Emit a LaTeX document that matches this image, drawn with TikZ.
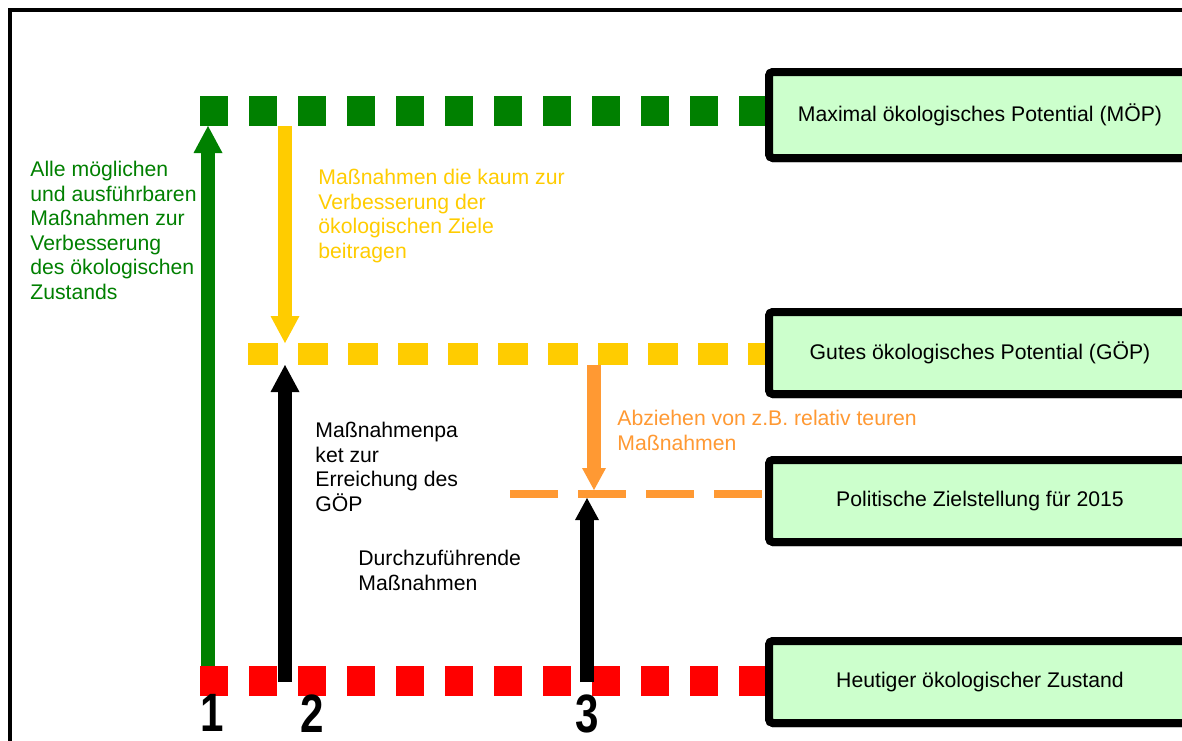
\documentclass[tikz,border=0pt]{standalone}
\usepackage{fontspec}
\setmainfont{Liberation Sans}
\usetikzlibrary{arrows.meta}
\definecolor{moepgreen}{RGB}{0,128,0}
\definecolor{goepyellow}{RGB}{255,204,0}
\definecolor{zielorange}{RGB}{255,153,51}
\definecolor{heutred}{RGB}{255,0,0}
\definecolor{boxgreen}{RGB}{204,255,204}

\begin{document}
\begin{tikzpicture}[x=0.5pt,y=-0.5pt,
 lvlbox/.style={draw=black,line width=4pt,rounded corners=2pt,fill=boxgreen,
  minimum width=211pt,minimum height=41pt,inner sep=0pt,font=\fontsize{10.6}{12.5}\selectfont},
 txt/.style={anchor=north west,align=left,inner sep=0pt,font=\fontsize{10.6}{12.25}\selectfont},
 bigarrow/.style={line width=7pt,-{Triangle[width=14.5pt,length=13.5pt,line width=0pt]}},
 smallarrow/.style={line width=7pt,-{Triangle[width=12pt,length=11pt,line width=0pt]}},
 num/.style={anchor=north,inner sep=0pt,font=\fontsize{27}{27}\selectfont\bfseries}]
 \clip (0,0) rectangle (1182,740);
 \fill[white] (0,0) rectangle (1182,740);
 \draw[line width=1.75pt] (10,760) -- (10,10) -- (1200,10);
 % levels
 \node[lvlbox,minimum height=43pt] (moep) at (980,115) {};
 \node[lvlbox] (goep) at (980,353) {};
 \node[lvlbox] (ziel) at (980,501) {};
 \node[lvlbox] (heut) at (980,682) {};
 \coordinate (moepL) at (200,111);
 \coordinate (goepL) at (248,354);
 \coordinate (zielL) at (510,494);
 \coordinate (heutL) at (200,681);
 \draw[moepgreen,line width=15pt,dash pattern=on 14pt off 10.5pt] (moepL) -- (moepL -| moep.west);
 \draw[goepyellow,line width=11pt,dash pattern=on 15pt off 10pt] (goepL) -- (goepL -| goep.west);
 \draw[zielorange,line width=4pt,dash pattern=on 24pt off 10pt] (zielL) -- (zielL -| ziel.west);
 \draw[heutred,line width=15pt,dash pattern=on 14pt off 10.5pt] (heutL) -- (heutL -| heut.west);
 \node[lvlbox,minimum height=43pt] at (moep) {Maximal ökologisches Potential (MÖP)};
 \node[lvlbox] at (goep) {Gutes ökologisches Potential (GÖP)};
 \node[lvlbox] at (ziel) {Politische Zielstellung für 2015};
 \node[lvlbox] at (heut) {Heutiger ökologischer Zustand};
 % arrows
 \coordinate (a1s) at (208,666);
 \coordinate (a1e) at (208,126);
 \coordinate (ays) at (285,126);
 \coordinate (aye) at (285,343);
 \coordinate (a2s) at (285,682);
 \coordinate (a2e) at (285,365);
 \coordinate (aos) at (594,365);
 \coordinate (aoe) at (594,490);
 \coordinate (a3s) at (587,682);
 \coordinate (a3e) at (587,498);
 \draw[bigarrow,moepgreen] (a1s) -- (a1e);
 \draw[bigarrow,goepyellow] (ays) -- (aye);
 \draw[bigarrow,black] (a2s) -- (a2e);
 \draw[smallarrow,zielorange] (aos) -- (aoe);
 \draw[smallarrow,black] (a3s) -- (a3e);
 % texts
 \node[txt,text=moepgreen] (alltxt) at (30,161) {Alle möglichen\\und ausführbaren\\Maßnahmen zur\\Verbesserung\\des ökologischen\\Zustands};
 \node[txt,text=goepyellow] (kaumtxt) at (318,169) {Maßnahmen die kaum zur\\Verbesserung der\\ökologischen Ziele\\beitragen};
 \node[txt] (pakettxt) at (315,422) {Maßnahmenpa\\ket zur\\Erreichung des\\GÖP};
 \node[txt] (durchtxt) at (358,550) {Durchzuführende\\Maßnahmen};
 \node[txt,text=zielorange] (abztxt) at (617,410) {Abziehen von z.B. relativ teuren\\Maßnahmen};
 % numbers
 \node[num] (n1) at (212,694) {\scalebox{0.78}[1]{1}};
 \node[num] (n2) at (312,694) {\scalebox{0.78}[1]{2}};
 \node[num] (n3) at (587,694) {\scalebox{0.78}[1]{3}};
\end{tikzpicture}
\end{document}
